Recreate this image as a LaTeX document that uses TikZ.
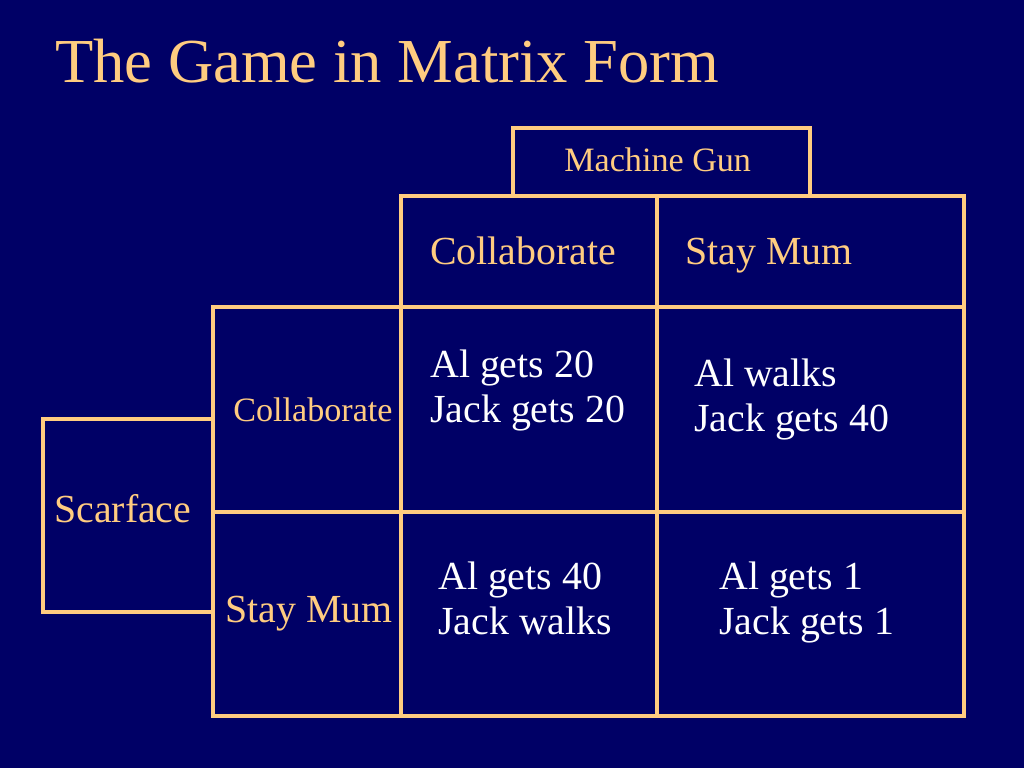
\documentclass[tikz,border=0pt]{standalone}
\usepackage{fontspec}
\setmainfont{Liberation Serif}
\definecolor{bg}{RGB}{0,0,102}
\definecolor{peach}{RGB}{255,204,128}
\newcommand{\twolines}[2]{\begin{tabular}[t]{@{}l@{}}#1\\#2\end{tabular}}
\begin{document}
\begin{tikzpicture}[x=0.703125pt,y=-0.703125pt,
  gridline/.style={draw=peach, line width=2.8pt, line join=miter, line cap=rect},
  lbl/.style={anchor=base west, inner sep=0pt, text=peach},
  big/.style={font=\fontsize{28pt}{32.3pt}\selectfont},
  small/.style={font=\fontsize{24pt}{27.6pt}\selectfont},
  payoff/.style={anchor=base west, inner sep=0pt, text=white, font=\fontsize{28pt}{32.3pt}\selectfont}]
\fill[bg] (0,0) rectangle (1024,768);
\useasboundingbox (0,0) rectangle (1024,768);

% title
\node[lbl, font=\fontsize{44pt}{52pt}\selectfont] (title) at (55,83) {The Game in Matrix Form};

% Machine Gun box
\draw[gridline] (513,196) -- (513,128) -- (810,128) -- (810,196);
% column header row and grid
\draw[gridline] (401,307) -- (401,196) -- (964,196) -- (964,716) -- (213,716) -- (213,307) -- cycle;
\draw[gridline] (213,307) -- (964,307);
\draw[gridline] (213,512) -- (964,512);
\draw[gridline] (401,307) -- (401,716);
\draw[gridline] (657,196) -- (657,716);
% Scarface box
\draw[gridline] (213,419) -- (43,419) -- (43,612) -- (213,612);

% labels
\node[lbl, small] (mg) at (564,172) {Machine Gun};
\node[lbl, big] (colC) at (430,265) {Collaborate};
\node[lbl, big] (colS) at (685,265) {Stay Mum};
\node[lbl, small] (rowC) at (233,421) {Collaborate};
\node[lbl, big] (scar) at (54,522) {Scarface};
\node[lbl, big] (rowS) at (225,622) {Stay Mum};

% payoffs
\node[payoff] (p11) at (430,377) {\twolines{Al gets 20}{Jack gets 20}};
\node[payoff] (p12) at (694,386) {\twolines{Al walks}{Jack gets 40}};
\node[payoff] (p21) at (438,589) {\twolines{Al gets 40}{Jack walks}};
\node[payoff] (p22) at (719,589) {\twolines{Al gets 1}{Jack gets 1}};
\end{tikzpicture}
\end{document}
